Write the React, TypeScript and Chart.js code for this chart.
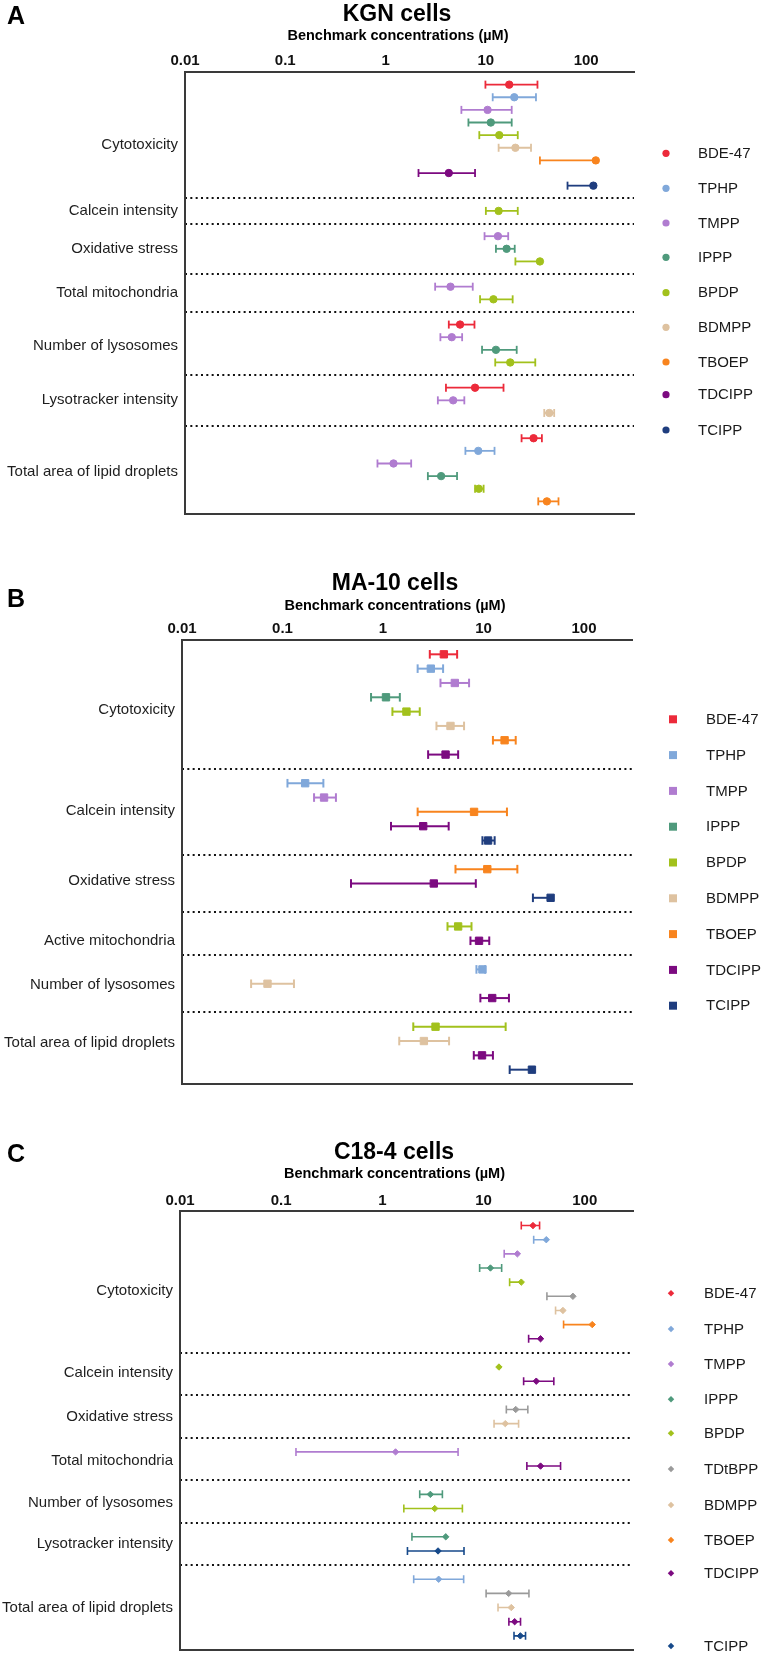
import React, { useEffect, useRef } from 'react';
import { Chart, registerables } from 'chart.js';

Chart.register(...registerables);

const FONT = "'Liberation Sans', Arial, Helvetica, sans-serif";
Chart.defaults.font.family = FONT;

// ---------------- DATA ----------------
type Entry = [string, number | null, number, number | null]; // compound, lower, BMC, upper

const TICK_VALUES = [0.01, 0.1, 1, 10, 100];
const TICK_LABELS = ['0.01', '0.1', '1', '10', '100'];
const AXIS_MIN = 0.01;
const AXIS_MAX = 300;
const SUBTITLE = 'Benchmark concentrations (µM)';

const LEGEND_9 = ['BDE-47', 'TPHP', 'TMPP', 'IPPP', 'BPDP', 'BDMPP', 'TBOEP', 'TDCIPP', 'TCIPP'];
const LEGEND_10 = ['BDE-47', 'TPHP', 'TMPP', 'IPPP', 'BPDP', 'TDtBPP', 'BDMPP', 'TBOEP', 'TDCIPP', 'TCIPP'];

// A: KGN cells
const KGN_ENDPOINTS = ['Cytotoxicity', 'Calcein intensity', 'Oxidative stress', 'Total mitochondria', 'Number of lysosomes', 'Lysotracker intensity', 'Total area of lipid droplets'];
const KGN_CYTOTOXICITY: Entry[] = [
  ['BDE-47', 9.9, 17.1, 32.7],
  ['TPHP', 11.7, 19.2, 31.6],
  ['TMPP', 5.7, 10.4, 18.1],
  ['IPPP', 6.7, 11.2, 18.1],
  ['BPDP', 8.6, 13.6, 20.8],
  ['BDMPP', 13.4, 19.7, 28.2],
  ['TBOEP', 34.6, 124.8, null],
  ['TDCIPP', 2.13, 4.27, 7.8],
  ['TCIPP', 65.2, 118, null],
];
const KGN_CALCEIN: Entry[] = [['BPDP', 10.0, 13.4, 20.8]];
const KGN_OXIDATIVE: Entry[] = [
  ['TMPP', 9.7, 13.2, 16.7],
  ['IPPP', 12.6, 16.1, 19.4],
  ['BPDP', 19.7, 34.6, null],
];
const KGN_MITO: Entry[] = [
  ['TMPP', 3.12, 4.44, 7.4],
  ['BPDP', 8.75, 11.9, 18.5],
];
const KGN_LYSOSOMES: Entry[] = [
  ['BDE-47', 4.27, 5.53, 7.7],
  ['TMPP', 3.52, 4.57, 5.8],
  ['IPPP', 9.16, 12.6, 20.3],
  ['BPDP', 12.4, 17.5, 31.1],
];
const KGN_LYSOTRACKER: Entry[] = [
  ['BDE-47', 4.0, 7.8, 15.0],
  ['TMPP', 3.32, 4.72, 6.1],
  ['BDMPP', 38.2, 42.9, 48],
];
const KGN_LIPID: Entry[] = [
  ['BDE-47', 22.7, 29.9, 36.2],
  ['TPHP', 6.25, 8.4, 12.2],
  ['TMPP', 0.83, 1.2, 1.8],
  ['IPPP', 2.64, 3.58, 5.16],
  ['BPDP', 7.8, 8.5, 9.5],
  ['TBOEP', 33.3, 40.6, 53],
];

// B: MA-10 cells
const MA10_ENDPOINTS = ['Cytotoxicity', 'Calcein intensity', 'Oxidative stress', 'Active mitochondria', 'Number of lysosomes', 'Total area of lipid droplets'];
const MA10_CYTOTOXICITY: Entry[] = [
  ['BDE-47', 2.92, 4.03, 5.46],
  ['TPHP', 2.21, 2.99, 3.96],
  ['TMPP', 3.73, 5.18, 7.18],
  ['IPPP', 0.76, 1.07, 1.47],
  ['BPDP', 1.24, 1.71, 2.32],
  ['BDMPP', 3.4, 4.69, 6.4],
  ['TBOEP', 12.4, 16.2, 20.9],
  ['TDCIPP', 2.81, 4.19, 5.59],
];
const MA10_CALCEIN: Entry[] = [
  ['TPHP', 0.112, 0.168, 0.255],
  ['TMPP', 0.206, 0.259, 0.34],
  ['TBOEP', 2.21, 8.05, 17.1],
  ['TDCIPP', 1.2, 2.51, 4.5],
  ['TCIPP', 9.75, 11.1, 12.9],
];
const MA10_OXIDATIVE: Entry[] = [
  ['TBOEP', 5.26, 10.9, 21.7],
  ['TDCIPP', 0.48, 3.2, 8.38],
  ['TCIPP', 31.0, 46.5, null],
];
const MA10_MITO: Entry[] = [
  ['BPDP', 4.38, 5.59, 7.59],
  ['TDCIPP', 7.41, 9.02, 11.4],
];
const MA10_LYSOSOMES: Entry[] = [
  ['TPHP', 8.5, 9.75, 10.4],
  ['BDMPP', 0.0487, 0.0709, 0.13],
  ['TDCIPP', 9.3, 12.2, 17.9],
];
const MA10_LIPID: Entry[] = [
  ['BPDP', 2.0, 3.33, 16.6],
  ['BDMPP', 1.45, 2.55, 4.54],
  ['TDCIPP', 8.0, 9.66, 12.4],
  ['TCIPP', 18.2, 30.3, null],
];

// C: C18-4 cells
const C184_ENDPOINTS = ['Cytotoxicity', 'Calcein intensity', 'Oxidative stress', 'Total mitochondria', 'Number of lysosomes', 'Lysotracker intensity', 'Total area of lipid droplets'];
const C184_CYTOTOXICITY: Entry[] = [
  ['BDE-47', 23.6, 30.8, 35.8],
  ['TPHP', 31.3, 41.7, null],
  ['TMPP', 16, 21.6, null],
  ['IPPP', 9.15, 11.7, 15.1],
  ['BPDP', 18.1, 23.6, null],
  ['TDtBPP', 42.3, 76.4, null],
  ['BDMPP', 51.5, 60.9, null],
  ['TBOEP', 61.8, 118.6, null],
  ['TDCIPP', 27.9, 36.6, null],
];
const C184_CALCEIN: Entry[] = [
  ['BPDP', null, 14.2, null],
  ['TDCIPP', 24.9, 33.2, 49.5],
];
const C184_OXIDATIVE: Entry[] = [
  ['TDtBPP', 16.8, 20.8, 27.4],
  ['BDMPP', 12.7, 16.4, 22.2],
];
const C184_MITO: Entry[] = [
  ['TMPP', 0.14, 1.35, 5.6],
  ['TDCIPP', 26.8, 36.6, 57.7],
];
const C184_LYSOSOMES: Entry[] = [
  ['IPPP', 2.34, 2.98, 3.92],
  ['BPDP', 1.63, 3.29, 6.18],
];
const C184_LYSOTRACKER: Entry[] = [
  ['IPPP', 1.96, 4.23, null],
  ['TCIPP', 1.77, 3.55, 6.41],
];
const C184_LIPID: Entry[] = [
  ['TPHP', 2.04, 3.6, 6.36],
  ['TDtBPP', 10.6, 17.7, 28.1],
  ['BDMPP', 13.9, 18.8, null],
  ['TDCIPP', 17.8, 20.3, 23.2],
  ['TCIPP', 20, 23.1, 26],
];

// ---------------- STYLES / LAYOUT ----------------
const COLORS: Record<string, string> = {
  'BDE-47': '#EC2A3A',
  TPHP: '#80A8DA',
  TMPP: '#B07CD0',
  IPPP: '#4F9A7C',
  BPDP: '#A2C11C',
  BDMPP: '#DEC2A0',
  TBOEP: '#F8841E',
  TDCIPP: '#7C0A80',
  TCIPP: '#1F3D7E',
  TDtBPP: '#9A9A9A',
};
const AXIS_COLOR = '#3a3a3a';

type Panel = {
  letter: string; title: string; endpoints: string[]; groups: Entry[][]; legend: string[];
  canvasTop: number; canvasBottom: number; plotLeft: number; plotRight: number; plotTop: number; plotBottom: number;
  letterY: number; titleX: number; titleY: number; subtitleX: number; subtitleY: number;
  marker: 'circle' | 'rect' | 'rectRot'; markerRadius: number; capRadius: number; lineWidth: number;
  legendMarkerX: number; legendTextX: number; legendYs: number[]; legendSize: number;
  labelShift: number[]; colorOverride?: Record<string, string>;
};

const PANELS: Panel[] = [
  {
    letter: 'A', title: 'KGN cells', endpoints: KGN_ENDPOINTS,
    groups: [KGN_CYTOTOXICITY, KGN_CALCEIN, KGN_OXIDATIVE, KGN_MITO, KGN_LYSOSOMES, KGN_LYSOTRACKER, KGN_LIPID],
    legend: LEGEND_9,
    canvasTop: 0, canvasBottom: 530, plotLeft: 185, plotRight: 634, plotTop: 72, plotBottom: 519.3,
    letterY: 24, titleX: 397, titleY: 20.7, subtitleX: 398, subtitleY: 39.5,
    marker: 'circle', markerRadius: 3.7, capRadius: 4, lineWidth: 1.8,
    legendMarkerX: 666, legendTextX: 698, legendYs: [153.3, 188.3, 223, 257.3, 292.7, 327.3, 362, 394.7, 430], legendSize: 3.6,
    labelShift: [0.8, 0, 0, 0, 0.2, 0, 0.2],
  },
  {
    letter: 'B', title: 'MA-10 cells', endpoints: MA10_ENDPOINTS,
    groups: [MA10_CYTOTOXICITY, MA10_CALCEIN, MA10_OXIDATIVE, MA10_MITO, MA10_LYSOSOMES, MA10_LIPID],
    legend: LEGEND_9,
    canvasTop: 560, canvasBottom: 1100, plotLeft: 182, plotRight: 632, plotTop: 640, plotBottom: 1088.3,
    letterY: 607, titleX: 395, titleY: 590, subtitleX: 395, subtitleY: 609.5,
    marker: 'rect', markerRadius: 5.2, capRadius: 4.3, lineWidth: 2,
    legendMarkerX: 673, legendTextX: 706, legendYs: [719.3, 755.1, 790.9, 826.7, 862.5, 898.3, 934.1, 969.9, 1005.7], legendSize: 4,
    labelShift: [0.4, -0.1, -0.2, 0.5, 0.1, -0.4],
  },
  {
    letter: 'C', title: 'C18-4 cells', endpoints: C184_ENDPOINTS,
    groups: [C184_CYTOTOXICITY, C184_CALCEIN, C184_OXIDATIVE, C184_MITO, C184_LYSOSOMES, C184_LYSOTRACKER, C184_LIPID],
    legend: LEGEND_10,
    canvasTop: 1120, canvasBottom: 1666, plotLeft: 180, plotRight: 633, plotTop: 1211.4, plotBottom: 1661.7,
    letterY: 1162, titleX: 394, titleY: 1159, subtitleX: 394.5, subtitleY: 1178,
    marker: 'rectRot', markerRadius: 3.2, capRadius: 4, lineWidth: 1.6,
    legendMarkerX: 671, legendTextX: 704, legendYs: [1293.3, 1329, 1364, 1399.3, 1433.3, 1469, 1505, 1540, 1573.3, 1646], legendSize: 2.8,
    labelShift: [0.6, -0.1, 0, 0.1, 0.1, 0, 0],
    colorOverride: { TCIPP: '#16498A' },
  },
];

const PAGE_W = 763;
const PAGE_H = 1666;

function buildRows(groups: Entry[][]) {
  const rows: { compound: string; low: number | null; mid: number; high: number | null; pos: number }[] = [];
  const seps: number[] = [];
  const centers: number[] = [];
  let pos = 1;
  groups.forEach((g, gi) => {
    const start = pos;
    g.forEach(([compound, low, mid, high]) => {
      rows.push({ compound, low, mid, high, pos });
      pos++;
    });
    centers.push((start + pos - 1) / 2);
    if (gi < groups.length - 1) {
      seps.push(pos);
      pos++;
    }
  });
  return { rows, seps, centers, max: pos };
}

function drawMarker(ctx: CanvasRenderingContext2D, shape: string, x: number, y: number, r: number) {
  ctx.beginPath();
  if (shape === 'circle') {
    ctx.arc(x, y, r, 0, Math.PI * 2);
  } else if (shape === 'rect') {
    ctx.rect(x - r, y - r, 2 * r, 2 * r);
  } else {
    ctx.moveTo(x, y - r * 1.15);
    ctx.lineTo(x + r * 1.15, y);
    ctx.lineTo(x, y + r * 1.15);
    ctx.lineTo(x - r * 1.15, y);
    ctx.closePath();
  }
  ctx.fill();
}

function makeChart(canvas: HTMLCanvasElement, p: Panel) {
  const { rows, seps, centers, max } = buildRows(p.groups);
  const labelPos = centers.map((c, i) => c + (p.labelShift[i] || 0));
  const colorOf = (c: string) => (p.colorOverride && p.colorOverride[c]) || COLORS[c];

  const datasets: any[] = [];
  p.legend.forEach((compound) => {
    const pts = rows.filter((r) => r.compound === compound).map((r) => ({ x: r.mid, y: r.pos }));
    if (!pts.length) return;
    const col = colorOf(compound);
    datasets.push({
      type: 'scatter', label: compound, data: pts, order: 0,
      pointStyle: p.marker, pointRadius: p.markerRadius, pointHoverRadius: p.markerRadius,
      pointBackgroundColor: col, pointBorderColor: col, pointBorderWidth: 1,
      backgroundColor: col, borderColor: col,
    });
  });
  rows.forEach((r) => {
    if (r.low == null) return;
    const col = colorOf(r.compound);
    const end = r.high != null ? r.high : r.mid;
    datasets.push({
      type: 'scatter', label: r.compound + ' range', showLine: true, order: 1,
      data: [{ x: r.low, y: r.pos }, { x: end, y: r.pos }],
      borderColor: col, borderWidth: p.lineWidth, fill: false,
      pointStyle: 'line', pointRotation: 90,
      pointRadius: [p.capRadius, r.high != null ? p.capRadius : 0],
      pointHoverRadius: [p.capRadius, r.high != null ? p.capRadius : 0],
      pointBorderColor: col, pointBackgroundColor: col, pointBorderWidth: p.lineWidth,
    });
  });

  const textPlugin = {
    id: 'panelText' + p.letter,
    afterDraw(chart: any) {
      const ctx: CanvasRenderingContext2D = chart.ctx;
      const t = p.canvasTop;
      ctx.save();
      ctx.fillStyle = '#000';
      ctx.textBaseline = 'alphabetic';
      ctx.textAlign = 'left';
      ctx.font = `bold 25px ${FONT}`;
      ctx.fillText(p.letter, 7, p.letterY - t);
      ctx.textAlign = 'center';
      ctx.font = `bold 23px ${FONT}`;
      ctx.fillText(p.title, p.titleX, p.titleY - t);
      ctx.font = `bold 14.5px ${FONT}`;
      ctx.fillText(SUBTITLE, p.subtitleX, p.subtitleY - t);
      // legend
      ctx.font = `15px ${FONT}`;
      ctx.textAlign = 'left';
      ctx.textBaseline = 'middle';
      p.legend.forEach((name, i) => {
        const y = p.legendYs[i] - t;
        ctx.fillStyle = colorOf(name);
        drawMarker(ctx, p.marker, p.legendMarkerX, y, p.legendSize);
        ctx.fillStyle = '#1a1a1a';
        ctx.fillText(name, p.legendTextX, y + 0.5);
      });
      ctx.restore();
    },
  };

  return new Chart(canvas, {
    type: 'scatter',
    data: { datasets },
    options: {
      animation: false,
      responsive: false,
      maintainAspectRatio: false,
      devicePixelRatio: 1,
      events: [],
      layout: { padding: { left: 0, top: 0, right: PAGE_W - p.plotRight, bottom: p.canvasBottom - p.plotBottom } },
      plugins: { legend: { display: false }, tooltip: { enabled: false }, title: { display: false } },
      scales: {
        x: {
          type: 'logarithmic', position: 'top', min: AXIS_MIN, max: AXIS_MAX,
          afterBuildTicks: (s: any) => { s.ticks = TICK_VALUES.map((v) => ({ value: v })); },
          afterFit: (s: any) => { s.height = p.plotTop - p.canvasTop; },
          ticks: {
            callback: (_v: any, i: number) => TICK_LABELS[i],
            font: { size: 15, weight: 'bold' }, color: '#111', padding: 2,
            autoSkip: false, maxRotation: 0, minRotation: 0,
          },
          grid: { display: false, drawTicks: false },
          border: { display: true, color: AXIS_COLOR, width: 2 },
        },
        x2: {
          type: 'logarithmic', position: 'bottom', min: AXIS_MIN, max: AXIS_MAX,
          afterFit: (s: any) => { s.height = 0; },
          ticks: { display: false },
          grid: { display: false, drawTicks: false },
          border: { display: true, color: AXIS_COLOR, width: 2 },
        },
        y: {
          type: 'linear', position: 'left', min: 0, max, reverse: true,
          afterBuildTicks: (s: any) => { s.ticks = labelPos.map((v) => ({ value: v })); },
          afterFit: (s: any) => { s.width = p.plotLeft; },
          ticks: {
            callback: (_v: any, i: number) => p.endpoints[i],
            font: { size: 15 }, color: '#1e1e1e', padding: 7, autoSkip: false,
          },
          grid: { display: false, drawTicks: false },
          border: { display: true, color: AXIS_COLOR, width: 2 },
        },
        y2: {
          type: 'linear', position: 'right', min: 0, max, reverse: true,
          afterBuildTicks: (s: any) => { s.ticks = seps.map((v) => ({ value: v })); },
          afterFit: (s: any) => { s.width = 0; },
          ticks: { display: false },
          grid: { display: true, drawOnChartArea: true, drawTicks: false, color: '#111', lineWidth: 2 },
          border: { display: false, dash: [2, 3.33] },
        },
      },
    } as any,
    plugins: [textPlugin],
  });
}

function PanelChart({ p }: { p: Panel }) {
  const ref = useRef<HTMLCanvasElement>(null);
  useEffect(() => {
    if (!ref.current) return;
    const chart = makeChart(ref.current, p);
    return () => chart.destroy();
  }, [p]);
  const h = p.canvasBottom - p.canvasTop;
  return (
    <canvas
      ref={ref}
      width={PAGE_W}
      height={h}
      style={{ position: 'absolute', left: 0, top: p.canvasTop, width: PAGE_W, height: h }}
    />
  );
}

export default function App() {
  useEffect(() => {
    document.body.style.margin = '0';
    document.body.style.background = '#fff';
  }, []);
  return (
    <div style={{ position: 'absolute', left: 0, top: 0, width: PAGE_W, height: PAGE_H, background: '#fff', overflow: 'hidden' }}>
      {PANELS.map((p) => (
        <PanelChart key={p.letter} p={p} />
      ))}
    </div>
  );
}
